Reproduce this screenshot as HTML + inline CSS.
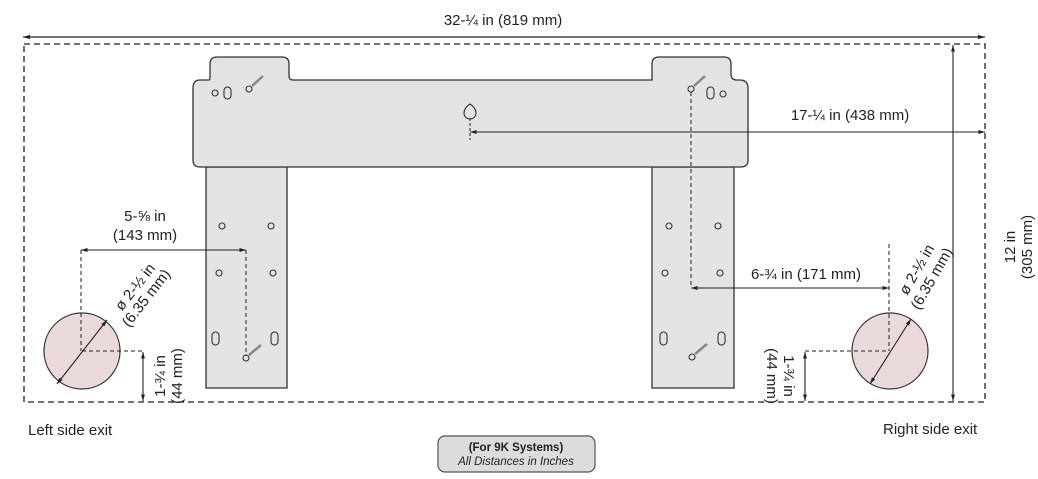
<!DOCTYPE html>
<html><head><meta charset="utf-8"><style>
html,body{margin:0;padding:0;background:#fff;width:1038px;height:479px;overflow:hidden}
svg{display:block}
text{font-family:"Liberation Sans",Arial,sans-serif;fill:#222;font-size:15px}
</style></head><body>
<svg width="1038" height="479" viewBox="0 0 1038 479" xmlns="http://www.w3.org/2000/svg">
<defs>
<marker id="a" viewBox="0 0 10 10" refX="10" refY="5" markerWidth="6" markerHeight="6" orient="auto-start-reverse"><path d="M0,2 L10,5 L0,8 z" fill="#222"/></marker>
</defs>
<line x1="23" y1="37" x2="985" y2="37" stroke="#222" stroke-width="1.2" marker-start="url(#a)" marker-end="url(#a)"/>
<text x="503" y="25" text-anchor="middle">32-¼ in (819 mm)</text>
<rect x="24" y="44" width="961" height="358" fill="none" stroke="#222" stroke-width="1.3" stroke-dasharray="6,4"/>
<path d="M206,167 V388 H287 V167 Z M652,167 V388 H734 V167 Z" fill="#e3e3e3" stroke="#333" stroke-width="1.3"/>
<path d="M200,80 H209 Q210,80 210,76 V64 Q210,57 217,57 H282 Q289,57 289,64 V76 Q289,80 293,80 H652 V64 Q652,57 659,57 H724 Q731,57 731,64 V74 Q731,80 737,80 H740 Q748,80 748,88 V160 Q748,167 741,167 H200 Q193,167 193,160 V88 Q193,80 200,80 Z" fill="#e3e3e3" stroke="#333" stroke-width="1.3"/>
<g fill="none" stroke="#333" stroke-width="1.1">
<circle cx="215" cy="93" r="3"/><rect x="224" y="87" width="7" height="12" rx="3.5"/>
<circle cx="249" cy="89" r="3"/>
<circle cx="691" cy="89" r="3"/><rect x="707" y="87" width="7" height="12" rx="3.5"/><circle cx="723" cy="94" r="3"/>
<path d="M470,104 q-6,4 -6,9 a6,6 0 0 0 12,0 q0,-5 -6,-9 z"/>
<circle cx="222" cy="226" r="3"/><circle cx="271" cy="226" r="3"/><circle cx="219" cy="273" r="3"/><circle cx="273" cy="273" r="3"/>
<rect x="212" y="332" width="7" height="13" rx="3.5"/><rect x="271" y="332" width="7" height="13" rx="3.5"/>
<circle cx="246" cy="358" r="3"/>
<circle cx="669" cy="226" r="3"/><circle cx="718" cy="226" r="3"/><circle cx="665" cy="273" r="3"/><circle cx="720" cy="273" r="3"/>
<rect x="660" y="332" width="7" height="13" rx="3.5"/><rect x="718" y="332" width="7" height="13" rx="3.5"/>
<circle cx="692" cy="357" r="3"/>
</g>
<g stroke="#888" stroke-width="2.5">
<line x1="252" y1="86" x2="263" y2="76"/><line x1="249" y1="355" x2="261" y2="345"/>
<line x1="694" y1="86" x2="705" y2="76"/><line x1="695" y1="354" x2="707" y2="344"/>
</g>
<line x1="470" y1="118" x2="470" y2="140" stroke="#222" stroke-dasharray="3,2"/>
<line x1="470" y1="132" x2="985" y2="132" stroke="#222" stroke-width="1.1" marker-start="url(#a)" marker-end="url(#a)"/>
<text x="850" y="120" text-anchor="middle">17-¼ in (438 mm)</text>
<line x1="953" y1="45" x2="953" y2="401" stroke="#222" stroke-width="1.1" marker-start="url(#a)" marker-end="url(#a)"/>
<text transform="translate(1015,247) rotate(-90)" text-anchor="middle">12 in</text>
<text transform="translate(1032,247) rotate(-90)" text-anchor="middle">(305 mm)</text>
<line x1="691" y1="92" x2="691" y2="288" stroke="#222" stroke-dasharray="4,3"/>
<line x1="691" y1="288" x2="889" y2="288" stroke="#222" stroke-width="1.1" marker-start="url(#a)" marker-end="url(#a)"/>
<text x="806" y="279" text-anchor="middle">6-¾ in (171 mm)</text>
<circle cx="890" cy="351" r="38" fill="#ead9da" stroke="#333" stroke-width="1.2"/>
<line x1="889" y1="244" x2="889" y2="351" stroke="#222" stroke-dasharray="4,3"/>
<line x1="805" y1="351" x2="889" y2="351" stroke="#222" stroke-dasharray="4,3"/>
<line x1="870" y1="384" x2="911" y2="319" stroke="#222" stroke-width="1.1" marker-start="url(#a)" marker-end="url(#a)"/>
<line x1="805" y1="352" x2="805" y2="401" stroke="#222" stroke-width="1.1" marker-start="url(#a)" marker-end="url(#a)"/>
<text transform="translate(784,376) rotate(90)" text-anchor="middle">1-¾ in</text>
<text transform="translate(767,376) rotate(90)" text-anchor="middle">(44 mm)</text>
<text transform="translate(921,272) rotate(-60)" text-anchor="middle">ø 2-½ in</text>
<text transform="translate(936,281) rotate(-60)" text-anchor="middle">(6.35 mm)</text>
<circle cx="82" cy="351" r="38" fill="#ead9da" stroke="#333" stroke-width="1.2"/>
<line x1="81" y1="250" x2="81" y2="351" stroke="#222" stroke-dasharray="4,3"/>
<line x1="246" y1="250" x2="246" y2="356" stroke="#222" stroke-dasharray="4,3"/>
<line x1="81" y1="250" x2="246" y2="250" stroke="#222" stroke-width="1.1" marker-start="url(#a)" marker-end="url(#a)"/>
<text x="145" y="221" text-anchor="middle">5-⅝ in</text>
<text x="145" y="240" text-anchor="middle">(143 mm)</text>
<line x1="82" y1="351" x2="143" y2="351" stroke="#222" stroke-dasharray="4,3"/>
<line x1="143" y1="352" x2="143" y2="401" stroke="#222" stroke-width="1.1" marker-start="url(#a)" marker-end="url(#a)"/>
<text transform="translate(165,376) rotate(-90)" text-anchor="middle">1-¾ in</text>
<text transform="translate(182,376) rotate(-90)" text-anchor="middle">(44 mm)</text>
<line x1="57" y1="384" x2="107" y2="320" stroke="#222" stroke-width="1.1" marker-start="url(#a)" marker-end="url(#a)"/>
<text transform="translate(139,290) rotate(-52)" text-anchor="middle">ø 2-½ in</text>
<text transform="translate(150,301) rotate(-52)" text-anchor="middle">(6.35 mm)</text>
<text x="28" y="435">Left side exit</text>
<text x="883" y="434">Right side exit</text>
<rect x="438" y="436" width="157" height="36" rx="7" fill="#dcdcdc" stroke="#555" stroke-width="1.2"/>
<text x="516" y="451" text-anchor="middle" style="font-size:11.5px;font-weight:bold">(For 9K Systems)</text>
<text x="516" y="465" text-anchor="middle" style="font-size:11.5px;font-style:italic">All Distances in Inches</text>
</svg>
</body></html>
